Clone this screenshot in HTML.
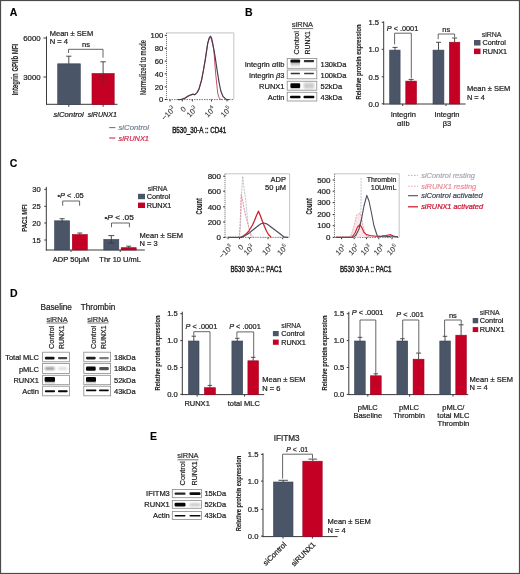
<!DOCTYPE html>
<html><head><meta charset="utf-8"><style>
html,body{margin:0;padding:0;background:#fff;}
svg{display:block;filter:blur(0.35px);}
text{font-family:"Liberation Sans",sans-serif;}
</style></head><body>
<svg width="520" height="574" viewBox="0 0 520 574">
<defs><filter id="bl" x="-20%" y="-80%" width="140%" height="260%"><feGaussianBlur stdDeviation="0.6"/></filter><filter id="bl2" x="-20%" y="-80%" width="140%" height="260%"><feGaussianBlur stdDeviation="0.9"/></filter><linearGradient id="gd" x1="0" y1="0" x2="0" y2="1"><stop offset="0" stop-color="#000" stop-opacity="1"/><stop offset="1" stop-color="#000" stop-opacity="0"/></linearGradient><linearGradient id="gu" x1="0" y1="1" x2="0" y2="0"><stop offset="0" stop-color="#000" stop-opacity="1"/><stop offset="1" stop-color="#000" stop-opacity="0"/></linearGradient></defs>
<rect x="0.50" y="0.50" width="519.00" height="573.00" fill="white" stroke="#4a4a4a" stroke-width="1.2"/>
<text x="9.8" y="15.6" font-size="10.5" fill="#000" stroke="#000" stroke-width="0.12" font-weight="bold">A</text>
<text x="49.7" y="35.5" font-size="7.5" fill="#1e1e1e" stroke="#1e1e1e" stroke-width="0.22" textLength="43.5" lengthAdjust="spacingAndGlyphs">Mean &#177; SEM</text>
<text x="49.7" y="43.6" font-size="7.5" fill="#1e1e1e" stroke="#1e1e1e" stroke-width="0.22" textLength="18.4" lengthAdjust="spacingAndGlyphs">N = 4</text>
<line x1="46.5" y1="36.4" x2="46.5" y2="104.6" stroke="#3a3a3a" stroke-width="1.0"/>
<line x1="43.5" y1="38" x2="46.5" y2="38" stroke="#3a3a3a" stroke-width="1.0"/>
<line x1="43.5" y1="77" x2="46.5" y2="77" stroke="#3a3a3a" stroke-width="1.0"/>
<text x="40.6" y="40.9" font-size="7.6" fill="#1e1e1e" stroke="#1e1e1e" stroke-width="0.22" text-anchor="end" textLength="17.4" lengthAdjust="spacingAndGlyphs">6000</text>
<text x="40.6" y="79.7" font-size="7.6" fill="#1e1e1e" stroke="#1e1e1e" stroke-width="0.22" text-anchor="end" textLength="17.4" lengthAdjust="spacingAndGlyphs">3000</text>
<line x1="46" y1="104.3" x2="117.5" y2="104.3" stroke="#3a3a3a" stroke-width="1.0"/>
<line x1="68.8" y1="104.3" x2="68.8" y2="106.8" stroke="#3a3a3a" stroke-width="1.0"/>
<line x1="103.1" y1="104.3" x2="103.1" y2="106.8" stroke="#3a3a3a" stroke-width="1.0"/>
<rect x="57.70" y="63.80" width="22.60" height="40.50" fill="#4a5568" stroke="#3a4456" stroke-width="0.6"/>
<rect x="92.00" y="73.50" width="22.20" height="30.80" fill="#c40024" stroke="#a00020" stroke-width="0.6"/>
<line x1="68.8" y1="56.2" x2="68.8" y2="63.8" stroke="#3a3a3a" stroke-width="0.9"/>
<line x1="66.14999999999999" y1="56.2" x2="71.45" y2="56.2" stroke="#3a3a3a" stroke-width="0.9"/>
<line x1="103.1" y1="61.8" x2="103.1" y2="84.6" stroke="#3a3a3a" stroke-width="0.9"/>
<line x1="100.35" y1="61.8" x2="105.85" y2="61.8" stroke="#3a3a3a" stroke-width="0.9"/>
<path d="M68.5 53 L68.5 49.3 L103 49.3 L103 57.7" stroke="#555" stroke-width="0.9" fill="none" stroke-linejoin="round"/>
<text x="86" y="46.5" font-size="7.5" fill="#1e1e1e" stroke="#1e1e1e" stroke-width="0.22" text-anchor="middle">ns</text>
<text x="53.5" y="116.9" font-size="7.5" fill="#1e1e1e" stroke="#1e1e1e" stroke-width="0.22" font-style="italic" textLength="30.3" lengthAdjust="spacingAndGlyphs">siControl</text>
<text x="87.7" y="116.9" font-size="7.5" fill="#1e1e1e" stroke="#1e1e1e" stroke-width="0.22" font-style="italic" textLength="29.2" lengthAdjust="spacingAndGlyphs">siRUNX1</text>
<text x="18.2" y="69.6" font-size="8.4" fill="#2a2a2a" stroke="#2a2a2a" stroke-width="0.12" text-anchor="middle" font-weight="bold" textLength="51.5" lengthAdjust="spacingAndGlyphs" transform="rotate(-90 18.2 69.6)">Integrin GPIIb MFI</text>
<line x1="166.5" y1="32.9" x2="233.8" y2="32.9" stroke="#b5b5b5" stroke-width="0.8"/>
<line x1="233.8" y1="32.9" x2="233.8" y2="99.6" stroke="#b5b5b5" stroke-width="0.8"/>
<line x1="166.5" y1="32.9" x2="166.5" y2="99.6" stroke="#555" stroke-width="0.9" stroke-dasharray="1 1"/>
<line x1="166.5" y1="99.6" x2="233.8" y2="99.6" stroke="#666" stroke-width="0.9" stroke-dasharray="1.5 1"/>
<line x1="164.7" y1="35.4" x2="166.5" y2="35.4" stroke="#333" stroke-width="1"/>
<text x="163.2" y="38.1" font-size="7.6" fill="#222" stroke="#222" stroke-width="0.22" text-anchor="end">100</text>
<line x1="164.7" y1="48.3" x2="166.5" y2="48.3" stroke="#333" stroke-width="1"/>
<text x="163.2" y="51.0" font-size="7.6" fill="#222" stroke="#222" stroke-width="0.22" text-anchor="end">80</text>
<line x1="164.7" y1="61.1" x2="166.5" y2="61.1" stroke="#333" stroke-width="1"/>
<text x="163.2" y="63.800000000000004" font-size="7.6" fill="#222" stroke="#222" stroke-width="0.22" text-anchor="end">60</text>
<line x1="164.7" y1="73.8" x2="166.5" y2="73.8" stroke="#333" stroke-width="1"/>
<text x="163.2" y="76.5" font-size="7.6" fill="#222" stroke="#222" stroke-width="0.22" text-anchor="end">40</text>
<line x1="164.7" y1="86.8" x2="166.5" y2="86.8" stroke="#333" stroke-width="1"/>
<text x="163.2" y="89.5" font-size="7.6" fill="#222" stroke="#222" stroke-width="0.22" text-anchor="end">20</text>
<line x1="164.7" y1="99.5" x2="166.5" y2="99.5" stroke="#333" stroke-width="1"/>
<text x="163.2" y="102.2" font-size="7.6" fill="#222" stroke="#222" stroke-width="0.22" text-anchor="end">0</text>
<line x1="170" y1="99.6" x2="170" y2="101.39999999999999" stroke="#333" stroke-width="1"/>
<line x1="182.3" y1="99.6" x2="182.3" y2="101.39999999999999" stroke="#333" stroke-width="1"/>
<line x1="192.3" y1="99.6" x2="192.3" y2="101.39999999999999" stroke="#333" stroke-width="1"/>
<line x1="211.5" y1="99.6" x2="211.5" y2="101.39999999999999" stroke="#333" stroke-width="1"/>
<line x1="227" y1="99.6" x2="227" y2="101.39999999999999" stroke="#333" stroke-width="1"/>
<text x="146" y="67.6" font-size="8.6" fill="#3a3a3a" stroke="#3a3a3a" stroke-width="0.12" text-anchor="middle" font-weight="bold" textLength="55" lengthAdjust="spacingAndGlyphs" transform="rotate(-90 146 67.6)">Normalized to mode</text>
<text x="175.8" y="109.5" font-size="7.6" fill="#3a3a3a" stroke="#3a3a3a" stroke-width="0.1" text-anchor="end" transform="rotate(-45 175.8 109.5)">&#8722;10<tspan font-size="5.47" dy="-3">3</tspan></text>
<text x="186.5" y="109.5" font-size="7.6" fill="#3a3a3a" stroke="#3a3a3a" stroke-width="0.1" text-anchor="end" transform="rotate(-45 186.5 109.5)">0</text>
<text x="197.8" y="109.5" font-size="7.6" fill="#3a3a3a" stroke="#3a3a3a" stroke-width="0.1" text-anchor="end" transform="rotate(-45 197.8 109.5)">10<tspan font-size="5.47" dy="-3">3</tspan></text>
<text x="215.8" y="109.5" font-size="7.6" fill="#3a3a3a" stroke="#3a3a3a" stroke-width="0.1" text-anchor="end" transform="rotate(-45 215.8 109.5)">10<tspan font-size="5.47" dy="-3">4</tspan></text>
<text x="231.8" y="109.5" font-size="7.6" fill="#3a3a3a" stroke="#3a3a3a" stroke-width="0.1" text-anchor="end" transform="rotate(-45 231.8 109.5)">10<tspan font-size="5.47" dy="-3">5</tspan></text>
<text x="199.2" y="132.7" font-size="8.6" fill="#222" stroke="#222" stroke-width="0.45" text-anchor="middle" textLength="54" lengthAdjust="spacingAndGlyphs">B530_30-A :: CD41</text>
<path d="M181.5 99.6 L185 98.4 L188 96.5 L190.8 95 L193 94.5 L195 94.8 L197 92.8 L199 89 L201.5 80.3 L203.5 70 L205.4 58.8 L207.7 43.4 L209.2 38.5 L210.5 37 L212 41 L213.8 49.5 L215.7 74 L217.7 93 L219 97.5 L220.5 99.4 L222 99.6" stroke="#c9506a" stroke-width="1.0" fill="none" stroke-linejoin="round"/>
<path d="M178 99.6 L181.5 99.4 L185 98 L188 96 L190.8 94.8 L193 94.2 L195 94.6 L197 92.6 L199 89 L201.5 80.3 L203.5 70 L205.4 58.8 L207.7 43.4 L209.2 38 L210.5 36.2 L211.5 38 L213 45 L215 56 L217 69.5 L219 82 L220.8 91 L223 96.5 L226.2 99.4 L229 99.6" stroke="#4d3a4c" stroke-width="1.2" fill="none" stroke-linejoin="round"/>
<line x1="109.2" y1="127.6" x2="115.4" y2="127.6" stroke="#777" stroke-width="1.1"/>
<text x="118.5" y="130.2" font-size="7.5" fill="#7a8593" stroke="#7a8593" stroke-width="0.22" font-style="italic" textLength="30.5" lengthAdjust="spacingAndGlyphs">siControl</text>
<line x1="109.2" y1="138" x2="115.4" y2="138" stroke="#d03050" stroke-width="1.1"/>
<text x="118.5" y="140.6" font-size="7.5" fill="#d03050" stroke="#d03050" stroke-width="0.22" font-style="italic" textLength="30.5" lengthAdjust="spacingAndGlyphs">siRUNX1</text>
<text x="245" y="15.5" font-size="10.5" fill="#000" stroke="#000" stroke-width="0.12" font-weight="bold">B</text>
<text x="302.5" y="26.8" font-size="7.5" fill="#333" stroke="#333" stroke-width="0.22" text-anchor="middle">siRNA</text>
<line x1="292" y1="28.6" x2="313.2" y2="28.6" stroke="#333" stroke-width="0.7"/>
<text x="299.2" y="54.5" font-size="7.5" fill="#1e1e1e" stroke="#1e1e1e" stroke-width="0.22" textLength="23.5" lengthAdjust="spacingAndGlyphs" transform="rotate(-90 299.2 54.5)">Control</text>
<text x="309.7" y="54.5" font-size="7.5" fill="#1e1e1e" stroke="#1e1e1e" stroke-width="0.22" textLength="23.5" lengthAdjust="spacingAndGlyphs" transform="rotate(-90 309.7 54.5)">RUNX1</text>
<rect x="287.20" y="58.50" width="29.60" height="9.80" fill="white" stroke="#8a8a8a" stroke-width="0.8"/>
<rect x="287.20" y="70.00" width="29.60" height="8.80" fill="white" stroke="#8a8a8a" stroke-width="0.8"/>
<rect x="287.20" y="81.25" width="29.60" height="8.95" fill="white" stroke="#8a8a8a" stroke-width="0.8"/>
<rect x="287.20" y="92.30" width="29.60" height="8.70" fill="white" stroke="#8a8a8a" stroke-width="0.8"/>
<text x="284.5" y="66.5" font-size="7.5" fill="#1e1e1e" stroke="#1e1e1e" stroke-width="0.22" text-anchor="end">Integrin <tspan font-style="italic">&#945;</tspan>IIb</text>
<text x="320.5" y="66.5" font-size="7.5" fill="#1e1e1e" stroke="#1e1e1e" stroke-width="0.22">130kDa</text>
<text x="284.5" y="77.5" font-size="7.5" fill="#1e1e1e" stroke="#1e1e1e" stroke-width="0.22" text-anchor="end">Integrin <tspan font-style="italic">&#946;</tspan>3</text>
<text x="320.5" y="77.5" font-size="7.5" fill="#1e1e1e" stroke="#1e1e1e" stroke-width="0.22">100kDa</text>
<text x="284.5" y="88.82499999999999" font-size="7.5" fill="#1e1e1e" stroke="#1e1e1e" stroke-width="0.22" text-anchor="end">RUNX1</text>
<text x="320.5" y="88.82499999999999" font-size="7.5" fill="#1e1e1e" stroke="#1e1e1e" stroke-width="0.22">52kDa</text>
<text x="284.5" y="99.75" font-size="7.5" fill="#1e1e1e" stroke="#1e1e1e" stroke-width="0.22" text-anchor="end">Actin</text>
<text x="320.5" y="99.75" font-size="7.5" fill="#1e1e1e" stroke="#1e1e1e" stroke-width="0.22">43kDa</text>
<line x1="383.7" y1="21.4" x2="383.7" y2="104.5" stroke="#3a3a3a" stroke-width="1.0"/>
<line x1="381.7" y1="22.3" x2="383.7" y2="22.3" stroke="#3a3a3a" stroke-width="1.0"/>
<text x="379.09999999999997" y="25.0" font-size="7.6" fill="#1e1e1e" stroke="#1e1e1e" stroke-width="0.22" text-anchor="end">1.5</text>
<line x1="381.7" y1="49.3" x2="383.7" y2="49.3" stroke="#3a3a3a" stroke-width="1.0"/>
<text x="379.09999999999997" y="52.0" font-size="7.6" fill="#1e1e1e" stroke="#1e1e1e" stroke-width="0.22" text-anchor="end">1.0</text>
<line x1="381.7" y1="76.8" x2="383.7" y2="76.8" stroke="#3a3a3a" stroke-width="1.0"/>
<text x="379.09999999999997" y="79.5" font-size="7.6" fill="#1e1e1e" stroke="#1e1e1e" stroke-width="0.22" text-anchor="end">0.5</text>
<line x1="381.7" y1="103.8" x2="383.7" y2="103.8" stroke="#3a3a3a" stroke-width="1.0"/>
<text x="379.09999999999997" y="106.5" font-size="7.6" fill="#1e1e1e" stroke="#1e1e1e" stroke-width="0.22" text-anchor="end">0.0</text>
<line x1="383.2" y1="104" x2="465.6" y2="104" stroke="#3a3a3a" stroke-width="1.0"/>
<line x1="402.7" y1="104" x2="402.7" y2="106" stroke="#3a3a3a" stroke-width="1.0"/>
<line x1="446" y1="104" x2="446" y2="106" stroke="#3a3a3a" stroke-width="1.0"/>
<rect x="389.70" y="50.10" width="10.40" height="53.90" fill="#4a5568" stroke="#3a4456" stroke-width="0.6"/>
<rect x="405.80" y="81.10" width="10.70" height="22.90" fill="#c40024" stroke="#a00020" stroke-width="0.6"/>
<rect x="433.00" y="50.10" width="10.90" height="53.90" fill="#4a5568" stroke="#3a4456" stroke-width="0.6"/>
<rect x="449.40" y="42.20" width="10.40" height="61.80" fill="#c40024" stroke="#a00020" stroke-width="0.6"/>
<line x1="395" y1="47.4" x2="395" y2="50.1" stroke="#3a3a3a" stroke-width="0.9"/>
<line x1="392.5" y1="47.4" x2="397.5" y2="47.4" stroke="#3a3a3a" stroke-width="0.9"/>
<line x1="411.1" y1="79.4" x2="411.1" y2="81.1" stroke="#3a3a3a" stroke-width="0.9"/>
<line x1="408.6" y1="79.4" x2="413.6" y2="79.4" stroke="#3a3a3a" stroke-width="0.9"/>
<line x1="438.5" y1="42.3" x2="438.5" y2="50.1" stroke="#3a3a3a" stroke-width="0.9"/>
<line x1="436.0" y1="42.3" x2="441.0" y2="42.3" stroke="#3a3a3a" stroke-width="0.9"/>
<line x1="454.6" y1="38" x2="454.6" y2="42.2" stroke="#3a3a3a" stroke-width="0.9"/>
<line x1="452.1" y1="38" x2="457.1" y2="38" stroke="#3a3a3a" stroke-width="0.9"/>
<path d="M394.6 44.4 L394.6 33.2 L411.3 33.2 L411.3 78.2" stroke="#555" stroke-width="0.9" fill="none" stroke-linejoin="round"/>
<path d="M438.2 39.2 L438.2 34 L454.6 34 L454.6 37.2" stroke="#555" stroke-width="0.9" fill="none" stroke-linejoin="round"/>
<text x="402.5" y="30.6" font-size="7.2" fill="#1e1e1e" stroke="#1e1e1e" stroke-width="0.22" text-anchor="middle" textLength="31.5" lengthAdjust="spacingAndGlyphs"><tspan font-style="italic">P</tspan> &lt; .0001</text>
<text x="446.3" y="31.5" font-size="7.5" fill="#1e1e1e" stroke="#1e1e1e" stroke-width="0.22" text-anchor="middle">ns</text>
<text x="481.7" y="36.5" font-size="7" fill="#333" stroke="#333" stroke-width="0.22">siRNA</text>
<rect x="474.00" y="40.00" width="6.50" height="5.50" fill="#4a5568"/>
<text x="482.4" y="45.2" font-size="7.3" fill="#1e1e1e" stroke="#1e1e1e" stroke-width="0.22">Control</text>
<rect x="474.00" y="48.60" width="6.50" height="5.50" fill="#c40024"/>
<text x="482.4" y="54" font-size="7.3" fill="#1e1e1e" stroke="#1e1e1e" stroke-width="0.22">RUNX1</text>
<text x="466.9" y="91" font-size="7.5" fill="#1e1e1e" stroke="#1e1e1e" stroke-width="0.22" textLength="43.3" lengthAdjust="spacingAndGlyphs">Mean &#177; SEM</text>
<text x="466.9" y="99.6" font-size="7.5" fill="#1e1e1e" stroke="#1e1e1e" stroke-width="0.22" textLength="17.9" lengthAdjust="spacingAndGlyphs">N = 4</text>
<text x="403.3" y="117" font-size="7.5" fill="#1e1e1e" stroke="#1e1e1e" stroke-width="0.22" text-anchor="middle">Integrin</text>
<text x="403.3" y="126" font-size="7.5" fill="#1e1e1e" stroke="#1e1e1e" stroke-width="0.22" text-anchor="middle">&#945;IIb</text>
<text x="447" y="117" font-size="7.5" fill="#1e1e1e" stroke="#1e1e1e" stroke-width="0.22" text-anchor="middle">Integrin</text>
<text x="447" y="126" font-size="7.5" fill="#1e1e1e" stroke="#1e1e1e" stroke-width="0.22" text-anchor="middle">&#946;3</text>
<text x="361.3" y="62" font-size="7.3" fill="#1e1e1e" stroke="#1e1e1e" stroke-width="0.12" text-anchor="middle" font-weight="bold" textLength="75" lengthAdjust="spacingAndGlyphs" transform="rotate(-90 361.3 62)">Relative protein expression</text>
<text x="9.7" y="166.6" font-size="10.5" fill="#000" stroke="#000" stroke-width="0.12" font-weight="bold">C</text>
<line x1="46.3" y1="186.9" x2="46.3" y2="250.5" stroke="#3a3a3a" stroke-width="1.0"/>
<line x1="44.3" y1="189.4" x2="46.3" y2="189.4" stroke="#3a3a3a" stroke-width="1.0"/>
<text x="40.699999999999996" y="192.1" font-size="7.6" fill="#1e1e1e" stroke="#1e1e1e" stroke-width="0.22" text-anchor="end">30</text>
<line x1="44.3" y1="206.3" x2="46.3" y2="206.3" stroke="#3a3a3a" stroke-width="1.0"/>
<text x="40.699999999999996" y="209.0" font-size="7.6" fill="#1e1e1e" stroke="#1e1e1e" stroke-width="0.22" text-anchor="end">25</text>
<line x1="44.3" y1="223" x2="46.3" y2="223" stroke="#3a3a3a" stroke-width="1.0"/>
<text x="40.699999999999996" y="225.7" font-size="7.6" fill="#1e1e1e" stroke="#1e1e1e" stroke-width="0.22" text-anchor="end">20</text>
<line x1="44.3" y1="240" x2="46.3" y2="240" stroke="#3a3a3a" stroke-width="1.0"/>
<text x="40.699999999999996" y="242.7" font-size="7.6" fill="#1e1e1e" stroke="#1e1e1e" stroke-width="0.22" text-anchor="end">15</text>
<line x1="45.8" y1="250" x2="144.8" y2="250" stroke="#3a3a3a" stroke-width="1.0"/>
<line x1="71" y1="250" x2="71" y2="252" stroke="#3a3a3a" stroke-width="1.0"/>
<line x1="120.2" y1="250" x2="120.2" y2="252" stroke="#3a3a3a" stroke-width="1.0"/>
<rect x="54.60" y="220.80" width="15.00" height="29.20" fill="#4a5568" stroke="#3a4456" stroke-width="0.6"/>
<rect x="72.30" y="234.60" width="15.00" height="15.40" fill="#c40024" stroke="#a00020" stroke-width="0.6"/>
<rect x="103.80" y="239.40" width="15.00" height="10.60" fill="#4a5568" stroke="#3a4456" stroke-width="0.6"/>
<rect x="121.20" y="247.70" width="15.00" height="2.30" fill="#c40024" stroke="#a00020" stroke-width="0.6"/>
<line x1="62.1" y1="218.7" x2="62.1" y2="222.5" stroke="#3a3a3a" stroke-width="0.9"/>
<line x1="59.6" y1="218.7" x2="64.6" y2="218.7" stroke="#3a3a3a" stroke-width="0.9"/>
<line x1="79.8" y1="233" x2="79.8" y2="236" stroke="#3a3a3a" stroke-width="0.9"/>
<line x1="77.3" y1="233" x2="82.3" y2="233" stroke="#3a3a3a" stroke-width="0.9"/>
<line x1="111.3" y1="235.6" x2="111.3" y2="243" stroke="#3a3a3a" stroke-width="0.9"/>
<line x1="108.3" y1="235.6" x2="114.3" y2="235.6" stroke="#3a3a3a" stroke-width="0.9"/>
<line x1="108.3" y1="243" x2="114.3" y2="243" stroke="#3a3a3a" stroke-width="0.9"/>
<line x1="128.7" y1="246.2" x2="128.7" y2="248.5" stroke="#3a3a3a" stroke-width="0.9"/>
<line x1="126.19999999999999" y1="246.2" x2="131.2" y2="246.2" stroke="#3a3a3a" stroke-width="0.9"/>
<path d="M62.7 205.8 L62.7 201 L79.6 201 L79.6 205.8" stroke="#555" stroke-width="0.9" fill="none" stroke-linejoin="round"/>
<path d="M111.5 227.3 L111.5 223 L129.4 223 L129.4 227.3" stroke="#555" stroke-width="0.9" fill="none" stroke-linejoin="round"/>
<text x="70.6" y="197.8" font-size="7.2" fill="#1e1e1e" stroke="#1e1e1e" stroke-width="0.22" text-anchor="middle" textLength="26.3" lengthAdjust="spacingAndGlyphs">&#8226;<tspan font-style="italic">P</tspan> &lt; .05</text>
<text x="119.1" y="219.6" font-size="7.2" fill="#1e1e1e" stroke="#1e1e1e" stroke-width="0.22" text-anchor="middle" textLength="29.4" lengthAdjust="spacingAndGlyphs">&#8226;<tspan font-style="italic">P</tspan> &lt; .05</text>
<text x="147.7" y="191.4" font-size="7" fill="#333" stroke="#333" stroke-width="0.22">siRNA</text>
<rect x="138.00" y="193.80" width="7.00" height="5.40" fill="#4a5568"/>
<text x="146.7" y="199.1" font-size="7.3" fill="#1e1e1e" stroke="#1e1e1e" stroke-width="0.22">Control</text>
<rect x="138.00" y="202.60" width="7.00" height="5.40" fill="#c40024"/>
<text x="146.7" y="207.8" font-size="7.3" fill="#1e1e1e" stroke="#1e1e1e" stroke-width="0.22">RUNX1</text>
<text x="139.6" y="237.8" font-size="7.5" fill="#1e1e1e" stroke="#1e1e1e" stroke-width="0.22">Mean &#177; SEM</text>
<text x="139.6" y="246.3" font-size="7.5" fill="#1e1e1e" stroke="#1e1e1e" stroke-width="0.22">N = 3</text>
<text x="71" y="262.2" font-size="7.5" fill="#1e1e1e" stroke="#1e1e1e" stroke-width="0.22" text-anchor="middle">ADP 50&#956;M</text>
<text x="120.2" y="262.2" font-size="7.5" fill="#1e1e1e" stroke="#1e1e1e" stroke-width="0.22" text-anchor="middle">Thr 10 U/mL</text>
<text x="27" y="218.1" font-size="8" fill="#1e1e1e" stroke="#1e1e1e" stroke-width="0.12" text-anchor="middle" font-weight="bold" textLength="27.4" lengthAdjust="spacingAndGlyphs" transform="rotate(-90 27 218.1)">PAC1 MFI</text>
<line x1="225" y1="173.8" x2="289.6" y2="173.8" stroke="#b5b5b5" stroke-width="0.8"/>
<line x1="289.6" y1="173.8" x2="289.6" y2="237.4" stroke="#b5b5b5" stroke-width="0.8"/>
<line x1="225" y1="173.8" x2="225" y2="237.4" stroke="#555" stroke-width="0.9" stroke-dasharray="1 1"/>
<line x1="225" y1="237.4" x2="289.6" y2="237.4" stroke="#666" stroke-width="0.9" stroke-dasharray="1.5 1"/>
<line x1="223.2" y1="176.2" x2="225" y2="176.2" stroke="#333" stroke-width="1"/>
<text x="221" y="178.89999999999998" font-size="8" fill="#222" stroke="#222" stroke-width="0.22" text-anchor="end">800</text>
<line x1="223.2" y1="191.2" x2="225" y2="191.2" stroke="#333" stroke-width="1"/>
<text x="221" y="193.89999999999998" font-size="8" fill="#222" stroke="#222" stroke-width="0.22" text-anchor="end">600</text>
<line x1="223.2" y1="206.9" x2="225" y2="206.9" stroke="#333" stroke-width="1"/>
<text x="221" y="209.6" font-size="8" fill="#222" stroke="#222" stroke-width="0.22" text-anchor="end">400</text>
<line x1="223.2" y1="222" x2="225" y2="222" stroke="#333" stroke-width="1"/>
<text x="221" y="224.7" font-size="8" fill="#222" stroke="#222" stroke-width="0.22" text-anchor="end">200</text>
<line x1="223.2" y1="237.4" x2="225" y2="237.4" stroke="#333" stroke-width="1"/>
<text x="221" y="240.1" font-size="8" fill="#222" stroke="#222" stroke-width="0.22" text-anchor="end">0</text>
<line x1="228" y1="237.4" x2="228" y2="239.20000000000002" stroke="#333" stroke-width="1"/>
<line x1="239.6" y1="237.4" x2="239.6" y2="239.20000000000002" stroke="#333" stroke-width="1"/>
<line x1="249.6" y1="237.4" x2="249.6" y2="239.20000000000002" stroke="#333" stroke-width="1"/>
<line x1="268" y1="237.4" x2="268" y2="239.20000000000002" stroke="#333" stroke-width="1"/>
<line x1="282.7" y1="237.4" x2="282.7" y2="239.20000000000002" stroke="#333" stroke-width="1"/>
<text x="202.4" y="206.3" font-size="8.8" fill="#1e1e1e" stroke="#1e1e1e" stroke-width="0.12" text-anchor="middle" font-weight="bold" textLength="16.3" lengthAdjust="spacingAndGlyphs" transform="rotate(-90 202.4 206.3)">Count</text>
<text x="286" y="181.5" font-size="7.5" fill="#1e1e1e" stroke="#1e1e1e" stroke-width="0.22" text-anchor="end">ADP</text>
<text x="286" y="190.3" font-size="7.5" fill="#1e1e1e" stroke="#1e1e1e" stroke-width="0.22" text-anchor="end">50 &#956;M</text>
<text x="233.3" y="247.6" font-size="7.6" fill="#3a3a3a" stroke="#3a3a3a" stroke-width="0.1" text-anchor="end" transform="rotate(-45 233.3 247.6)">&#8722;10<tspan font-size="5.47" dy="-3">3</tspan></text>
<text x="244" y="247.6" font-size="7.6" fill="#3a3a3a" stroke="#3a3a3a" stroke-width="0.1" text-anchor="end" transform="rotate(-45 244 247.6)">0</text>
<text x="254.8" y="247.6" font-size="7.6" fill="#3a3a3a" stroke="#3a3a3a" stroke-width="0.1" text-anchor="end" transform="rotate(-45 254.8 247.6)">10<tspan font-size="5.47" dy="-3">3</tspan></text>
<text x="273.3" y="247.6" font-size="7.6" fill="#3a3a3a" stroke="#3a3a3a" stroke-width="0.1" text-anchor="end" transform="rotate(-45 273.3 247.6)">10<tspan font-size="5.47" dy="-3">4</tspan></text>
<text x="288.3" y="247.6" font-size="7.6" fill="#3a3a3a" stroke="#3a3a3a" stroke-width="0.1" text-anchor="end" transform="rotate(-45 288.3 247.6)">10<tspan font-size="5.47" dy="-3">5</tspan></text>
<text x="256.2" y="271.5" font-size="8.3" fill="#222" stroke="#222" stroke-width="0.45" text-anchor="middle" textLength="51.5" lengthAdjust="spacingAndGlyphs">B530 30-A :: PAC1</text>
<path d="M226 237.4 L238 237.4 L239.6 236 L240.5 215 L241.2 194.6 L242.5 200 L244 208 L245.8 216 L248 224 L250 232 L251.5 237.4" stroke="#e07a88" stroke-width="0.9" fill="none" stroke-dasharray="2 1" stroke-linejoin="round"/>
<path d="M226 237.4 L239 237.4 L240.5 226 L241.5 195 L242.7 176.2 L244 188 L245.8 200.8 L247 214 L248 223.8 L250 232 L253.5 237.4 L289 237.4" stroke="#b8b8c0" stroke-width="0.9" fill="none" stroke-dasharray="2 1" stroke-linejoin="round"/>
<path d="M240.4 237.4 L243 236.2 L246 234 L248.5 231.5 L250.4 228.5 L252.5 225 L254.5 220.5 L256.5 215.5 L258.5 211.2 L260.5 216 L262.5 221.5 L264.5 226.5 L266.5 231 L268.5 234.5 L271.2 237.4" stroke="#d0202e" stroke-width="1.3" fill="none" stroke-linejoin="round"/>
<path d="M228 237.4 L241 237.4 L244 236.3 L247 234.6 L250 232.4 L253.5 229.5 L256 227.5 L258.5 225.5 L261 223.8 L263.5 223 L266 223.6 L268.5 225 L271 227 L274 229.3 L277 231.5 L280 233.8 L282.5 235.8 L284.5 237.2 L288 237.4" stroke="#4a4f5a" stroke-width="1.2" fill="none" stroke-linejoin="round"/>
<line x1="334.5" y1="173.8" x2="399.2" y2="173.8" stroke="#b5b5b5" stroke-width="0.8"/>
<line x1="399.2" y1="173.8" x2="399.2" y2="237.4" stroke="#b5b5b5" stroke-width="0.8"/>
<line x1="334.5" y1="173.8" x2="334.5" y2="237.4" stroke="#555" stroke-width="0.9" stroke-dasharray="1 1"/>
<line x1="334.5" y1="237.4" x2="399.2" y2="237.4" stroke="#666" stroke-width="0.9" stroke-dasharray="1.5 1"/>
<line x1="332.7" y1="180" x2="334.5" y2="180" stroke="#333" stroke-width="1"/>
<text x="330.5" y="182.7" font-size="8" fill="#222" stroke="#222" stroke-width="0.22" text-anchor="end">500</text>
<line x1="332.7" y1="191.2" x2="334.5" y2="191.2" stroke="#333" stroke-width="1"/>
<text x="330.5" y="193.89999999999998" font-size="8" fill="#222" stroke="#222" stroke-width="0.22" text-anchor="end">400</text>
<line x1="332.7" y1="202.6" x2="334.5" y2="202.6" stroke="#333" stroke-width="1"/>
<text x="330.5" y="205.29999999999998" font-size="8" fill="#222" stroke="#222" stroke-width="0.22" text-anchor="end">300</text>
<line x1="332.7" y1="214.6" x2="334.5" y2="214.6" stroke="#333" stroke-width="1"/>
<text x="330.5" y="217.29999999999998" font-size="8" fill="#222" stroke="#222" stroke-width="0.22" text-anchor="end">200</text>
<line x1="332.7" y1="225.7" x2="334.5" y2="225.7" stroke="#333" stroke-width="1"/>
<text x="330.5" y="228.39999999999998" font-size="8" fill="#222" stroke="#222" stroke-width="0.22" text-anchor="end">100</text>
<line x1="332.7" y1="237.4" x2="334.5" y2="237.4" stroke="#333" stroke-width="1"/>
<text x="330.5" y="240.1" font-size="8" fill="#222" stroke="#222" stroke-width="0.22" text-anchor="end">0</text>
<line x1="341.6" y1="237.4" x2="341.6" y2="239.20000000000002" stroke="#333" stroke-width="1"/>
<line x1="354.2" y1="237.4" x2="354.2" y2="239.20000000000002" stroke="#333" stroke-width="1"/>
<line x1="366.5" y1="237.4" x2="366.5" y2="239.20000000000002" stroke="#333" stroke-width="1"/>
<line x1="378.8" y1="237.4" x2="378.8" y2="239.20000000000002" stroke="#333" stroke-width="1"/>
<line x1="392" y1="237.4" x2="392" y2="239.20000000000002" stroke="#333" stroke-width="1"/>
<text x="312.2" y="206.3" font-size="8.8" fill="#1e1e1e" stroke="#1e1e1e" stroke-width="0.12" text-anchor="middle" font-weight="bold" textLength="16.3" lengthAdjust="spacingAndGlyphs" transform="rotate(-90 312.2 206.3)">Count</text>
<text x="396.5" y="181.5" font-size="7.5" fill="#1e1e1e" stroke="#1e1e1e" stroke-width="0.22" text-anchor="end" textLength="29.7" lengthAdjust="spacingAndGlyphs">Thrombin</text>
<text x="396.5" y="190.3" font-size="7.5" fill="#1e1e1e" stroke="#1e1e1e" stroke-width="0.22" text-anchor="end" textLength="25.7" lengthAdjust="spacingAndGlyphs">10U/mL</text>
<text x="346.6" y="247.7" font-size="7.6" fill="#3a3a3a" stroke="#3a3a3a" stroke-width="0.1" text-anchor="end" transform="rotate(-45 346.6 247.7)">10<tspan font-size="5.47" dy="-3">1</tspan></text>
<text x="359.6" y="247.7" font-size="7.6" fill="#3a3a3a" stroke="#3a3a3a" stroke-width="0.1" text-anchor="end" transform="rotate(-45 359.6 247.7)">10<tspan font-size="5.47" dy="-3">2</tspan></text>
<text x="372" y="247.7" font-size="7.6" fill="#3a3a3a" stroke="#3a3a3a" stroke-width="0.1" text-anchor="end" transform="rotate(-45 372 247.7)">10<tspan font-size="5.47" dy="-3">3</tspan></text>
<text x="385" y="247.7" font-size="7.6" fill="#3a3a3a" stroke="#3a3a3a" stroke-width="0.1" text-anchor="end" transform="rotate(-45 385 247.7)">10<tspan font-size="5.47" dy="-3">4</tspan></text>
<text x="398.2" y="247.7" font-size="7.6" fill="#3a3a3a" stroke="#3a3a3a" stroke-width="0.1" text-anchor="end" transform="rotate(-45 398.2 247.7)">10<tspan font-size="5.47" dy="-3">5</tspan></text>
<text x="365.7" y="271.5" font-size="8.3" fill="#222" stroke="#222" stroke-width="0.45" text-anchor="middle" textLength="51.5" lengthAdjust="spacingAndGlyphs">B530 30-A :: PAC1</text>
<path d="M350 237.4 L358 237.4 L360 230 L361.1 177.3 L362.3 230 L364 237.4" stroke="#d4d4d8" stroke-width="0.8" fill="none" stroke-dasharray="2 1" stroke-linejoin="round"/>
<path d="M349 237.4 L350.5 236.5 L352.5 231 L354.5 224 L356.6 215 L358.5 213.8 L360.2 213.3 L361.2 216 L362 221 L363.5 228 L365.1 233.4 L367 236.8 Z" stroke="none" stroke-width="0" fill="#fbe6e9" stroke-linejoin="round"/>
<path d="M336 237.4 L349 237 L350.5 236.5 L352.5 231 L354.5 224 L356.6 215 L358.5 213.8 L360.2 213.3 L361.2 216 L362 221 L363.5 228 L365.1 233.4 L367 236.5 L398 237.2" stroke="#eaa0a8" stroke-width="0.9" fill="none" stroke-dasharray="2 1" stroke-linejoin="round"/>
<path d="M336 237.4 L352 237 L355 233 L357.5 227 L360 224.6 L362 228 L364 232.5 L366.5 234.6 L370 235.5 L376 236.2 L382 236 L386 235.5 L390.4 234.6 L393 236 L398 237" stroke="#d0202e" stroke-width="1.1" fill="none" stroke-linejoin="round"/>
<path d="M336 237.4 L353.5 237.2 L356 235 L359 229 L361.5 219 L364 206 L366.8 195.4 L369 201 L371.5 213 L374 226 L377.3 236 L380 236.5 L384 236 L388 236.6 L392 236 L398 237" stroke="#4a4f5a" stroke-width="1.1" fill="none" stroke-linejoin="round"/>
<line x1="408" y1="175.4" x2="418" y2="175.4" stroke="#b0b0b8" stroke-width="0.9" stroke-dasharray="1.6 1.4"/>
<text x="421.2" y="178" font-size="7.5" fill="#a8acb4" stroke="#a8acb4" stroke-width="0.22" font-style="italic" textLength="53.8" lengthAdjust="spacingAndGlyphs">siControl resting</text>
<line x1="408" y1="186.2" x2="418" y2="186.2" stroke="#eaa0a8" stroke-width="0.9" stroke-dasharray="1.6 1.4"/>
<text x="421.2" y="188.8" font-size="7.5" fill="#e8909a" stroke="#e8909a" stroke-width="0.22" font-style="italic" textLength="55" lengthAdjust="spacingAndGlyphs">siRUNX1 resting</text>
<line x1="408" y1="195.7" x2="418" y2="195.7" stroke="#4a4f5a" stroke-width="1.1"/>
<text x="421.2" y="198.3" font-size="7.5" fill="#3e4856" stroke="#3e4856" stroke-width="0.22" font-style="italic" textLength="61.4" lengthAdjust="spacingAndGlyphs">siControl activated</text>
<line x1="408" y1="206.8" x2="418" y2="206.8" stroke="#d0202e" stroke-width="1.3"/>
<text x="421.2" y="209.4" font-size="7.5" fill="#c8102e" stroke="#c8102e" stroke-width="0.22" font-style="italic" textLength="61.8" lengthAdjust="spacingAndGlyphs">siRUNX1 activated</text>
<text x="10" y="297.1" font-size="10.5" fill="#000" stroke="#000" stroke-width="0.12" font-weight="bold">D</text>
<text x="56.2" y="310.2" font-size="8.2" fill="#1e1e1e" stroke="#1e1e1e" stroke-width="0.22" text-anchor="middle">Baseline</text>
<text x="98" y="310.2" font-size="8.2" fill="#1e1e1e" stroke="#1e1e1e" stroke-width="0.22" text-anchor="middle">Thrombin</text>
<text x="57.1" y="321.6" font-size="7.5" fill="#333" stroke="#333" stroke-width="0.22" text-anchor="middle">siRNA</text>
<line x1="46.6" y1="323" x2="67.6" y2="323" stroke="#333" stroke-width="0.7"/>
<text x="98" y="321.6" font-size="7.5" fill="#333" stroke="#333" stroke-width="0.22" text-anchor="middle">siRNA</text>
<line x1="87.5" y1="323" x2="108.5" y2="323" stroke="#333" stroke-width="0.7"/>
<text x="53.9" y="349" font-size="7.5" fill="#1e1e1e" stroke="#1e1e1e" stroke-width="0.22" textLength="23.5" lengthAdjust="spacingAndGlyphs" transform="rotate(-90 53.9 349)">Control</text>
<text x="64" y="349" font-size="7.5" fill="#1e1e1e" stroke="#1e1e1e" stroke-width="0.22" textLength="23.5" lengthAdjust="spacingAndGlyphs" transform="rotate(-90 64 349)">RUNX1</text>
<text x="95.5" y="349" font-size="7.5" fill="#1e1e1e" stroke="#1e1e1e" stroke-width="0.22" textLength="23.5" lengthAdjust="spacingAndGlyphs" transform="rotate(-90 95.5 349)">Control</text>
<text x="105.6" y="349" font-size="7.5" fill="#1e1e1e" stroke="#1e1e1e" stroke-width="0.22" textLength="23.5" lengthAdjust="spacingAndGlyphs" transform="rotate(-90 105.6 349)">RUNX1</text>
<rect x="42.60" y="352.20" width="26.90" height="9.60" fill="white" stroke="#8a8a8a" stroke-width="0.8"/>
<rect x="83.80" y="352.20" width="26.80" height="9.60" fill="white" stroke="#8a8a8a" stroke-width="0.8"/>
<rect x="42.60" y="363.50" width="26.90" height="10.00" fill="white" stroke="#8a8a8a" stroke-width="0.8"/>
<rect x="83.80" y="363.50" width="26.80" height="10.00" fill="white" stroke="#8a8a8a" stroke-width="0.8"/>
<rect x="42.60" y="375.30" width="26.90" height="9.40" fill="white" stroke="#8a8a8a" stroke-width="0.8"/>
<rect x="83.80" y="375.30" width="26.80" height="9.40" fill="white" stroke="#8a8a8a" stroke-width="0.8"/>
<rect x="42.60" y="386.20" width="26.90" height="9.60" fill="white" stroke="#8a8a8a" stroke-width="0.8"/>
<rect x="83.80" y="386.20" width="26.80" height="9.60" fill="white" stroke="#8a8a8a" stroke-width="0.8"/>
<text x="38.9" y="360.0" font-size="7.5" fill="#1e1e1e" stroke="#1e1e1e" stroke-width="0.22" text-anchor="end">Total MLC</text>
<text x="114" y="359.6" font-size="7.5" fill="#1e1e1e" stroke="#1e1e1e" stroke-width="0.22">18kDa</text>
<text x="38.9" y="371.5" font-size="7.5" fill="#1e1e1e" stroke="#1e1e1e" stroke-width="0.22" text-anchor="end">pMLC</text>
<text x="114" y="371.1" font-size="7.5" fill="#1e1e1e" stroke="#1e1e1e" stroke-width="0.22">18kDa</text>
<text x="38.9" y="383.0" font-size="7.5" fill="#1e1e1e" stroke="#1e1e1e" stroke-width="0.22" text-anchor="end">RUNX1</text>
<text x="114" y="382.6" font-size="7.5" fill="#1e1e1e" stroke="#1e1e1e" stroke-width="0.22">52kDa</text>
<text x="38.9" y="394.0" font-size="7.5" fill="#1e1e1e" stroke="#1e1e1e" stroke-width="0.22" text-anchor="end">Actin</text>
<text x="114" y="393.6" font-size="7.5" fill="#1e1e1e" stroke="#1e1e1e" stroke-width="0.22">43kDa</text>
<line x1="182.3" y1="311.7" x2="182.3" y2="395.1" stroke="#3a3a3a" stroke-width="1.0"/>
<line x1="180.3" y1="313.7" x2="182.3" y2="313.7" stroke="#3a3a3a" stroke-width="1.0"/>
<text x="177.70000000000002" y="316.4" font-size="7.6" fill="#1e1e1e" stroke="#1e1e1e" stroke-width="0.22" text-anchor="end">1.5</text>
<line x1="180.3" y1="340.6" x2="182.3" y2="340.6" stroke="#3a3a3a" stroke-width="1.0"/>
<text x="177.70000000000002" y="343.3" font-size="7.6" fill="#1e1e1e" stroke="#1e1e1e" stroke-width="0.22" text-anchor="end">1.0</text>
<line x1="180.3" y1="367.5" x2="182.3" y2="367.5" stroke="#3a3a3a" stroke-width="1.0"/>
<text x="177.70000000000002" y="370.2" font-size="7.6" fill="#1e1e1e" stroke="#1e1e1e" stroke-width="0.22" text-anchor="end">0.5</text>
<line x1="180.3" y1="394.4" x2="182.3" y2="394.4" stroke="#3a3a3a" stroke-width="1.0"/>
<text x="177.70000000000002" y="397.09999999999997" font-size="7.6" fill="#1e1e1e" stroke="#1e1e1e" stroke-width="0.22" text-anchor="end">0.0</text>
<line x1="181.8" y1="394.6" x2="264.2" y2="394.6" stroke="#3a3a3a" stroke-width="1.0"/>
<line x1="197.1" y1="394.6" x2="197.1" y2="396.6" stroke="#3a3a3a" stroke-width="1.0"/>
<line x1="244.6" y1="394.6" x2="244.6" y2="396.6" stroke="#3a3a3a" stroke-width="1.0"/>
<rect x="188.50" y="341.00" width="10.50" height="53.60" fill="#4a5568" stroke="#3a4456" stroke-width="0.6"/>
<rect x="204.40" y="387.70" width="11.00" height="6.90" fill="#c40024" stroke="#a00020" stroke-width="0.6"/>
<rect x="231.90" y="341.00" width="10.80" height="53.60" fill="#4a5568" stroke="#3a4456" stroke-width="0.6"/>
<rect x="247.90" y="360.80" width="10.60" height="33.80" fill="#c40024" stroke="#a00020" stroke-width="0.6"/>
<line x1="193.8" y1="336.2" x2="193.8" y2="341" stroke="#3a3a3a" stroke-width="0.9"/>
<line x1="191.55" y1="336.2" x2="196.05" y2="336.2" stroke="#3a3a3a" stroke-width="0.9"/>
<line x1="209.9" y1="385.4" x2="209.9" y2="387.7" stroke="#3a3a3a" stroke-width="0.9"/>
<line x1="207.65" y1="385.4" x2="212.15" y2="385.4" stroke="#3a3a3a" stroke-width="0.9"/>
<line x1="237.3" y1="338.3" x2="237.3" y2="341" stroke="#3a3a3a" stroke-width="0.9"/>
<line x1="235.05" y1="338.3" x2="239.55" y2="338.3" stroke="#3a3a3a" stroke-width="0.9"/>
<line x1="253.2" y1="357.3" x2="253.2" y2="360.8" stroke="#3a3a3a" stroke-width="0.9"/>
<line x1="250.95" y1="357.3" x2="255.45" y2="357.3" stroke="#3a3a3a" stroke-width="0.9"/>
<path d="M193.8 335.8 L193.8 331.7 L210 331.7 L210 385.8" stroke="#555" stroke-width="0.9" fill="none" stroke-linejoin="round"/>
<path d="M236.9 337.7 L236.9 331.9 L253.7 331.9 L253.7 357.9" stroke="#555" stroke-width="0.9" fill="none" stroke-linejoin="round"/>
<text x="201.4" y="329.1" font-size="7.2" fill="#1e1e1e" stroke="#1e1e1e" stroke-width="0.22" text-anchor="middle" textLength="31.7" lengthAdjust="spacingAndGlyphs"><tspan font-style="italic">P</tspan> &lt; .0001</text>
<text x="245" y="329.1" font-size="7.2" fill="#1e1e1e" stroke="#1e1e1e" stroke-width="0.22" text-anchor="middle" textLength="31.6" lengthAdjust="spacingAndGlyphs"><tspan font-style="italic">P</tspan> &lt; .0001</text>
<text x="281.2" y="328.3" font-size="7" fill="#333" stroke="#333" stroke-width="0.22">siRNA</text>
<rect x="272.90" y="331.00" width="5.80" height="5.20" fill="#4a5568"/>
<text x="281.2" y="336.1" font-size="7.3" fill="#1e1e1e" stroke="#1e1e1e" stroke-width="0.22">Control</text>
<rect x="272.90" y="339.60" width="5.80" height="5.20" fill="#c40024"/>
<text x="281.2" y="345.1" font-size="7.3" fill="#1e1e1e" stroke="#1e1e1e" stroke-width="0.22">RUNX1</text>
<text x="262.3" y="382.2" font-size="7.5" fill="#1e1e1e" stroke="#1e1e1e" stroke-width="0.22" textLength="43.3" lengthAdjust="spacingAndGlyphs">Mean &#177; SEM</text>
<text x="262.3" y="390.9" font-size="7.5" fill="#1e1e1e" stroke="#1e1e1e" stroke-width="0.22">N = 6</text>
<text x="197.1" y="406.4" font-size="7.5" fill="#1e1e1e" stroke="#1e1e1e" stroke-width="0.22" text-anchor="middle">RUNX1</text>
<text x="243.8" y="406.4" font-size="7.5" fill="#1e1e1e" stroke="#1e1e1e" stroke-width="0.22" text-anchor="middle">total MLC</text>
<text x="160.3" y="352.9" font-size="7.3" fill="#1e1e1e" stroke="#1e1e1e" stroke-width="0.12" text-anchor="middle" font-weight="bold" textLength="75" lengthAdjust="spacingAndGlyphs" transform="rotate(-90 160.3 352.9)">Relative protein expression</text>
<line x1="348.8" y1="311.7" x2="348.8" y2="395.1" stroke="#3a3a3a" stroke-width="1.0"/>
<line x1="346.8" y1="313.7" x2="348.8" y2="313.7" stroke="#3a3a3a" stroke-width="1.0"/>
<text x="344.2" y="316.4" font-size="7.6" fill="#1e1e1e" stroke="#1e1e1e" stroke-width="0.22" text-anchor="end">1.5</text>
<line x1="346.8" y1="340.6" x2="348.8" y2="340.6" stroke="#3a3a3a" stroke-width="1.0"/>
<text x="344.2" y="343.3" font-size="7.6" fill="#1e1e1e" stroke="#1e1e1e" stroke-width="0.22" text-anchor="end">1.0</text>
<line x1="346.8" y1="367.5" x2="348.8" y2="367.5" stroke="#3a3a3a" stroke-width="1.0"/>
<text x="344.2" y="370.2" font-size="7.6" fill="#1e1e1e" stroke="#1e1e1e" stroke-width="0.22" text-anchor="end">0.5</text>
<line x1="346.8" y1="394.4" x2="348.8" y2="394.4" stroke="#3a3a3a" stroke-width="1.0"/>
<text x="344.2" y="397.09999999999997" font-size="7.6" fill="#1e1e1e" stroke="#1e1e1e" stroke-width="0.22" text-anchor="end">0.0</text>
<line x1="348.3" y1="394.6" x2="468.3" y2="394.6" stroke="#3a3a3a" stroke-width="1.0"/>
<line x1="367.8" y1="394.6" x2="367.8" y2="396.6" stroke="#3a3a3a" stroke-width="1.0"/>
<line x1="409.6" y1="394.6" x2="409.6" y2="396.6" stroke="#3a3a3a" stroke-width="1.0"/>
<line x1="453" y1="394.6" x2="453" y2="396.6" stroke="#3a3a3a" stroke-width="1.0"/>
<rect x="354.60" y="341.00" width="10.60" height="53.60" fill="#4a5568" stroke="#3a4456" stroke-width="0.6"/>
<rect x="370.40" y="375.80" width="10.80" height="18.80" fill="#c40024" stroke="#a00020" stroke-width="0.6"/>
<rect x="396.90" y="341.00" width="10.80" height="53.60" fill="#4a5568" stroke="#3a4456" stroke-width="0.6"/>
<rect x="413.10" y="359.20" width="10.90" height="35.40" fill="#c40024" stroke="#a00020" stroke-width="0.6"/>
<rect x="439.80" y="341.00" width="10.60" height="53.60" fill="#4a5568" stroke="#3a4456" stroke-width="0.6"/>
<rect x="455.80" y="335.20" width="10.50" height="59.40" fill="#c40024" stroke="#a00020" stroke-width="0.6"/>
<line x1="360" y1="337.3" x2="360" y2="341" stroke="#3a3a3a" stroke-width="0.9"/>
<line x1="357.75" y1="337.3" x2="362.25" y2="337.3" stroke="#3a3a3a" stroke-width="0.9"/>
<line x1="375.8" y1="373.8" x2="375.8" y2="375.8" stroke="#3a3a3a" stroke-width="0.9"/>
<line x1="373.55" y1="373.8" x2="378.05" y2="373.8" stroke="#3a3a3a" stroke-width="0.9"/>
<line x1="402.5" y1="338.7" x2="402.5" y2="341" stroke="#3a3a3a" stroke-width="0.9"/>
<line x1="400.25" y1="338.7" x2="404.75" y2="338.7" stroke="#3a3a3a" stroke-width="0.9"/>
<line x1="418.6" y1="353.1" x2="418.6" y2="359.2" stroke="#3a3a3a" stroke-width="0.9"/>
<line x1="416.1" y1="353.1" x2="421.1" y2="353.1" stroke="#3a3a3a" stroke-width="0.9"/>
<line x1="445" y1="336.3" x2="445" y2="341" stroke="#3a3a3a" stroke-width="0.9"/>
<line x1="442.75" y1="336.3" x2="447.25" y2="336.3" stroke="#3a3a3a" stroke-width="0.9"/>
<line x1="461.1" y1="324.8" x2="461.1" y2="335.2" stroke="#3a3a3a" stroke-width="0.9"/>
<line x1="458.6" y1="324.8" x2="463.6" y2="324.8" stroke="#3a3a3a" stroke-width="0.9"/>
<path d="M360 337.3 L360 320 L375.8 320 L375.8 373.8" stroke="#555" stroke-width="0.9" fill="none" stroke-linejoin="round"/>
<path d="M402.7 338.7 L402.7 320 L418.8 320 L418.8 353" stroke="#555" stroke-width="0.9" fill="none" stroke-linejoin="round"/>
<path d="M444.6 336.3 L444.6 320 L461.2 320 L461.2 324.8" stroke="#555" stroke-width="0.9" fill="none" stroke-linejoin="round"/>
<text x="367.6" y="315.3" font-size="7.2" fill="#1e1e1e" stroke="#1e1e1e" stroke-width="0.22" text-anchor="middle" textLength="31.8" lengthAdjust="spacingAndGlyphs"><tspan font-style="italic">P</tspan> &lt; .0001</text>
<text x="410" y="317.2" font-size="7.2" fill="#1e1e1e" stroke="#1e1e1e" stroke-width="0.22" text-anchor="middle" textLength="27.5" lengthAdjust="spacingAndGlyphs"><tspan font-style="italic">P</tspan> &lt; .001</text>
<text x="452.9" y="317.8" font-size="7.5" fill="#1e1e1e" stroke="#1e1e1e" stroke-width="0.22" text-anchor="middle">ns</text>
<text x="479.8" y="315.3" font-size="7" fill="#333" stroke="#333" stroke-width="0.22">siRNA</text>
<rect x="472.70" y="318.00" width="5.50" height="5.30" fill="#4a5568"/>
<text x="479.8" y="323.2" font-size="7.3" fill="#1e1e1e" stroke="#1e1e1e" stroke-width="0.22">Control</text>
<rect x="472.70" y="327.10" width="5.50" height="5.00" fill="#c40024"/>
<text x="479.8" y="332.2" font-size="7.3" fill="#1e1e1e" stroke="#1e1e1e" stroke-width="0.22">RUNX1</text>
<text x="469.6" y="381.6" font-size="7.5" fill="#1e1e1e" stroke="#1e1e1e" stroke-width="0.22" textLength="43.3" lengthAdjust="spacingAndGlyphs">Mean &#177; SEM</text>
<text x="469.6" y="390.3" font-size="7.5" fill="#1e1e1e" stroke="#1e1e1e" stroke-width="0.22">N = 4</text>
<text x="367.8" y="409.7" font-size="7.5" fill="#1e1e1e" stroke="#1e1e1e" stroke-width="0.22" text-anchor="middle">pMLC</text>
<text x="367.8" y="417.8" font-size="7.5" fill="#1e1e1e" stroke="#1e1e1e" stroke-width="0.22" text-anchor="middle">Baseline</text>
<text x="409" y="409.7" font-size="7.5" fill="#1e1e1e" stroke="#1e1e1e" stroke-width="0.22" text-anchor="middle">pMLC</text>
<text x="409" y="417.8" font-size="7.5" fill="#1e1e1e" stroke="#1e1e1e" stroke-width="0.22" text-anchor="middle">Thrombin</text>
<text x="453.4" y="409.7" font-size="7.5" fill="#1e1e1e" stroke="#1e1e1e" stroke-width="0.22" text-anchor="middle">pMLC/</text>
<text x="453.4" y="417.8" font-size="7.5" fill="#1e1e1e" stroke="#1e1e1e" stroke-width="0.22" text-anchor="middle">total MLC</text>
<text x="453.4" y="425.9" font-size="7.5" fill="#1e1e1e" stroke="#1e1e1e" stroke-width="0.22" text-anchor="middle">Thrombin</text>
<text x="327" y="352.9" font-size="7.3" fill="#1e1e1e" stroke="#1e1e1e" stroke-width="0.12" text-anchor="middle" font-weight="bold" textLength="75" lengthAdjust="spacingAndGlyphs" transform="rotate(-90 327 352.9)">Relative protein expression</text>
<text x="150" y="440" font-size="10.5" fill="#000" stroke="#000" stroke-width="0.12" font-weight="bold">E</text>
<text x="188" y="458.4" font-size="7.5" fill="#333" stroke="#333" stroke-width="0.22" text-anchor="middle">siRNA</text>
<line x1="177.5" y1="459.8" x2="198.5" y2="459.8" stroke="#333" stroke-width="0.7"/>
<text x="184.6" y="485.4" font-size="7.5" fill="#1e1e1e" stroke="#1e1e1e" stroke-width="0.22" textLength="24" lengthAdjust="spacingAndGlyphs" transform="rotate(-90 184.6 485.4)">Control</text>
<text x="196.7" y="485.4" font-size="7.5" fill="#1e1e1e" stroke="#1e1e1e" stroke-width="0.22" textLength="24" lengthAdjust="spacingAndGlyphs" transform="rotate(-90 196.7 485.4)">RUNX1</text>
<rect x="172.30" y="489.40" width="29.20" height="8.30" fill="white" stroke="#8a8a8a" stroke-width="0.8"/>
<rect x="172.30" y="500.40" width="29.20" height="7.90" fill="white" stroke="#8a8a8a" stroke-width="0.8"/>
<rect x="172.30" y="511.50" width="29.20" height="8.10" fill="white" stroke="#8a8a8a" stroke-width="0.8"/>
<text x="169.8" y="496.24999999999994" font-size="7.5" fill="#1e1e1e" stroke="#1e1e1e" stroke-width="0.22" text-anchor="end">IFITM3</text>
<text x="204.4" y="496.24999999999994" font-size="7.5" fill="#1e1e1e" stroke="#1e1e1e" stroke-width="0.22">15kDa</text>
<text x="169.8" y="507.05" font-size="7.5" fill="#1e1e1e" stroke="#1e1e1e" stroke-width="0.22" text-anchor="end">RUNX1</text>
<text x="204.4" y="507.05" font-size="7.5" fill="#1e1e1e" stroke="#1e1e1e" stroke-width="0.22">52kDa</text>
<text x="169.8" y="518.25" font-size="7.5" fill="#1e1e1e" stroke="#1e1e1e" stroke-width="0.22" text-anchor="end">Actin</text>
<text x="204.4" y="518.25" font-size="7.5" fill="#1e1e1e" stroke="#1e1e1e" stroke-width="0.22">43kDa</text>
<text x="286.6" y="440.5" font-size="8.2" fill="#1e1e1e" stroke="#1e1e1e" stroke-width="0.22" text-anchor="middle">IFITM3</text>
<line x1="263" y1="453.2" x2="263" y2="537.1" stroke="#3a3a3a" stroke-width="1.0"/>
<line x1="261" y1="454.4" x2="263" y2="454.4" stroke="#3a3a3a" stroke-width="1.0"/>
<text x="258.4" y="457.09999999999997" font-size="7.6" fill="#1e1e1e" stroke="#1e1e1e" stroke-width="0.22" text-anchor="end">1.5</text>
<line x1="261" y1="481.1" x2="263" y2="481.1" stroke="#3a3a3a" stroke-width="1.0"/>
<text x="258.4" y="483.8" font-size="7.6" fill="#1e1e1e" stroke="#1e1e1e" stroke-width="0.22" text-anchor="end">1.0</text>
<line x1="261" y1="509.3" x2="263" y2="509.3" stroke="#3a3a3a" stroke-width="1.0"/>
<text x="258.4" y="512.0" font-size="7.6" fill="#1e1e1e" stroke="#1e1e1e" stroke-width="0.22" text-anchor="end">0.5</text>
<line x1="261" y1="536.1" x2="263" y2="536.1" stroke="#3a3a3a" stroke-width="1.0"/>
<text x="258.4" y="538.8000000000001" font-size="7.6" fill="#1e1e1e" stroke="#1e1e1e" stroke-width="0.22" text-anchor="end">0.0</text>
<line x1="262.5" y1="536.6" x2="337.7" y2="536.6" stroke="#3a3a3a" stroke-width="1.0"/>
<line x1="283" y1="536.6" x2="283" y2="538.6" stroke="#3a3a3a" stroke-width="1.0"/>
<line x1="312.4" y1="536.6" x2="312.4" y2="538.6" stroke="#3a3a3a" stroke-width="1.0"/>
<rect x="273.50" y="482.00" width="19.50" height="54.60" fill="#4a5568" stroke="#3a4456" stroke-width="0.6"/>
<rect x="302.80" y="461.20" width="19.40" height="75.40" fill="#c40024" stroke="#a00020" stroke-width="0.6"/>
<line x1="283.2" y1="480.3" x2="283.2" y2="482" stroke="#3a3a3a" stroke-width="0.9"/>
<line x1="278.45" y1="480.3" x2="287.95" y2="480.3" stroke="#3a3a3a" stroke-width="0.9"/>
<line x1="312.8" y1="459.1" x2="312.8" y2="461.2" stroke="#3a3a3a" stroke-width="0.9"/>
<line x1="308.45" y1="459.1" x2="317.15000000000003" y2="459.1" stroke="#3a3a3a" stroke-width="0.9"/>
<path d="M282.6 478.6 L282.6 454.2 L312.5 454.2 L312.5 458.5" stroke="#555" stroke-width="0.9" fill="none" stroke-linejoin="round"/>
<text x="297.2" y="451.5" font-size="7.2" fill="#1e1e1e" stroke="#1e1e1e" stroke-width="0.22" text-anchor="middle" textLength="22" lengthAdjust="spacingAndGlyphs"><tspan font-style="italic">P</tspan> &lt; .01</text>
<text x="327.5" y="524.1" font-size="7.5" fill="#1e1e1e" stroke="#1e1e1e" stroke-width="0.22" textLength="43.3" lengthAdjust="spacingAndGlyphs">Mean &#177; SEM</text>
<text x="327.5" y="532.7" font-size="7.5" fill="#1e1e1e" stroke="#1e1e1e" stroke-width="0.22">N = 4</text>
<text x="287" y="545" font-size="7.5" fill="#1e1e1e" stroke="#1e1e1e" stroke-width="0.22" text-anchor="end" transform="rotate(-45 287 545)">siControl</text>
<text x="316" y="545" font-size="7.5" fill="#1e1e1e" stroke="#1e1e1e" stroke-width="0.22" text-anchor="end" transform="rotate(-45 316 545)">siRUNX1</text>
<text x="241.2" y="493.5" font-size="7.3" fill="#1e1e1e" stroke="#1e1e1e" stroke-width="0.12" text-anchor="middle" font-weight="bold" textLength="75.4" lengthAdjust="spacingAndGlyphs" transform="rotate(-90 241.2 493.5)">Relative protein expression</text>
<rect x="290.60" y="62.00" width="9.40" height="5.50" fill="url(#gd)" opacity="0.35" filter="url(#bl)"/>
<rect x="290.40" y="59.60" width="9.80" height="3.00" rx="1.20" fill="#000" opacity="0.95" filter="url(#bl)"/>
<rect x="303.80" y="60.00" width="10.30" height="2.20" rx="0.88" fill="#000" opacity="0.8" filter="url(#bl)"/>
<rect x="290.60" y="72.65" width="9.40" height="1.50" rx="0.60" fill="#000" opacity="0.8" filter="url(#bl)"/>
<rect x="304.00" y="72.65" width="10.00" height="1.50" rx="0.60" fill="#000" opacity="0.75" filter="url(#bl)"/>
<rect x="290.60" y="87.00" width="9.60" height="3.00" fill="url(#gd)" opacity="0.4" filter="url(#bl)"/>
<rect x="290.40" y="83.30" width="9.80" height="4.60" rx="1.20" fill="#000" opacity="0.98" filter="url(#bl)"/>
<rect x="303.60" y="82.80" width="10.70" height="6.00" rx="1.20" fill="#000" opacity="0.2" filter="url(#bl2)"/>
<rect x="290.00" y="95.70" width="10.60" height="2.60" rx="1.04" fill="#000" opacity="0.98" filter="url(#bl)"/>
<rect x="303.50" y="95.70" width="10.90" height="2.60" rx="1.04" fill="#000" opacity="0.98" filter="url(#bl)"/>
<rect x="44.90" y="356.70" width="9.70" height="2.80" rx="1.12" fill="#000" opacity="0.92" filter="url(#bl)"/>
<rect x="58.00" y="356.90" width="9.20" height="2.40" rx="0.96" fill="#000" opacity="0.72" filter="url(#bl)"/>
<rect x="44.90" y="366.90" width="9.70" height="3.20" rx="1.20" fill="#000" opacity="0.42" filter="url(#bl2)"/>
<rect x="58.00" y="367.00" width="9.20" height="3.00" rx="1.20" fill="#000" opacity="0.14" filter="url(#bl2)"/>
<rect x="45.00" y="380.00" width="10.00" height="4.30" fill="url(#gd)" opacity="0.5" filter="url(#bl)"/>
<rect x="44.60" y="376.90" width="10.40" height="4.80" rx="1.20" fill="#000" opacity="0.97" filter="url(#bl)"/>
<rect x="44.90" y="390.20" width="10.10" height="2.00" rx="0.80" fill="#000" opacity="0.97" filter="url(#bl)"/>
<rect x="58.00" y="390.20" width="9.60" height="2.00" rx="0.80" fill="#000" opacity="0.97" filter="url(#bl)"/>
<rect x="86.00" y="356.80" width="9.70" height="2.60" rx="1.04" fill="#000" opacity="0.88" filter="url(#bl)"/>
<rect x="99.20" y="357.00" width="9.60" height="2.20" rx="0.88" fill="#000" opacity="0.5" filter="url(#bl)"/>
<rect x="86.00" y="366.50" width="9.70" height="4.20" rx="1.20" fill="#000" opacity="0.97" filter="url(#bl)"/>
<rect x="99.20" y="366.90" width="9.60" height="3.40" rx="1.20" fill="#000" opacity="0.68" filter="url(#bl)"/>
<rect x="86.00" y="380.00" width="10.00" height="4.30" fill="url(#gd)" opacity="0.45" filter="url(#bl)"/>
<rect x="86.00" y="376.90" width="10.00" height="4.80" rx="1.20" fill="#000" opacity="0.97" filter="url(#bl)"/>
<rect x="86.00" y="389.50" width="10.40" height="1.80" rx="0.72" fill="#000" opacity="0.97" filter="url(#bl)"/>
<rect x="99.00" y="389.50" width="9.80" height="1.80" rx="0.72" fill="#000" opacity="0.97" filter="url(#bl)"/>
<rect x="174.60" y="492.60" width="10.90" height="2.20" rx="0.88" fill="#000" opacity="0.85" filter="url(#bl)"/>
<rect x="189.50" y="492.30" width="11.00" height="2.80" rx="1.12" fill="#000" opacity="0.95" filter="url(#bl)"/>
<rect x="174.60" y="502.80" width="10.90" height="3.60" rx="1.20" fill="#000" opacity="0.97" filter="url(#bl)"/>
<rect x="189.50" y="503.10" width="11.00" height="3.40" rx="1.20" fill="#000" opacity="0.2" filter="url(#bl2)"/>
<rect x="174.60" y="514.90" width="10.90" height="1.60" rx="0.64" fill="#000" opacity="0.95" filter="url(#bl)"/>
<rect x="189.50" y="514.90" width="11.00" height="1.60" rx="0.64" fill="#000" opacity="0.95" filter="url(#bl)"/>
</svg>
</body></html>
